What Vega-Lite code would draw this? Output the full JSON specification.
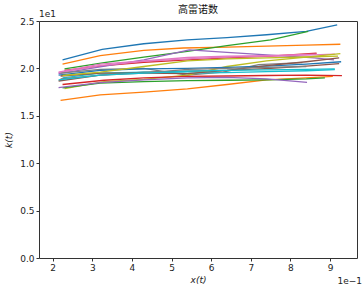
{
  "$schema": "https://vega.github.io/schema/vega-lite/v6.json",
  "width": 318,
  "height": 237,
  "autosize": {"type": "none"},
  "padding": {"left": 39, "top": 21, "right": 6, "bottom": 34},
  "background": "white",
  "title": {"text": "高雷诺数", "font": "Noto Sans CJK SC", "fontSize": 10, "fontWeight": "normal", "color": "#111", "offset": -5},
  "layer": [
    {
      "data": {"values": [
        {"s":0,"x":0.225,"k":20.9},{"s":0,"x":0.325,"k":22.0},{"s":0,"x":0.43,"k":22.6},{"s":0,"x":0.54,"k":23.0},{"s":0,"x":0.64,"k":23.25},{"s":0,"x":0.74,"k":23.55},{"s":0,"x":0.84,"k":23.9},{"s":0,"x":0.918,"k":24.6},
        {"s":1,"x":0.225,"k":20.45},{"s":1,"x":0.32,"k":21.35},{"s":1,"x":0.43,"k":21.9},{"s":1,"x":0.53,"k":22.15},{"s":1,"x":0.64,"k":22.25},{"s":1,"x":0.74,"k":22.35},{"s":1,"x":0.84,"k":22.45},{"s":1,"x":0.926,"k":22.55},
        {"s":2,"x":0.23,"k":19.95},{"s":2,"x":0.33,"k":20.6},{"s":2,"x":0.43,"k":21.2},{"s":2,"x":0.54,"k":21.8},{"s":2,"x":0.64,"k":22.4},{"s":2,"x":0.75,"k":23.0},{"s":2,"x":0.845,"k":23.9},
        {"s":3,"x":0.23,"k":19.8},{"s":3,"x":0.33,"k":20.3},{"s":3,"x":0.43,"k":20.65},{"s":3,"x":0.54,"k":20.9},{"s":3,"x":0.64,"k":21.1},{"s":3,"x":0.75,"k":21.3},{"s":3,"x":0.866,"k":21.6},
        {"s":4,"x":0.215,"k":19.45},{"s":4,"x":0.32,"k":20.15},{"s":4,"x":0.43,"k":20.9},{"s":4,"x":0.545,"k":21.95},{"s":4,"x":0.64,"k":21.7},{"s":4,"x":0.75,"k":21.4},{"s":4,"x":0.86,"k":21.1},{"s":4,"x":0.91,"k":20.9},
        {"s":5,"x":0.215,"k":18.67},{"s":5,"x":0.32,"k":19.3},{"s":5,"x":0.43,"k":19.6},{"s":5,"x":0.54,"k":19.7},{"s":5,"x":0.64,"k":19.8},{"s":5,"x":0.75,"k":20.0},{"s":5,"x":0.84,"k":20.25},{"s":5,"x":0.923,"k":20.5},
        {"s":6,"x":0.215,"k":19.55},{"s":6,"x":0.32,"k":20.3},{"s":6,"x":0.43,"k":20.75},{"s":6,"x":0.54,"k":21.0},{"s":6,"x":0.64,"k":21.2},{"s":6,"x":0.74,"k":21.3},{"s":6,"x":0.84,"k":21.4},{"s":6,"x":0.912,"k":21.5},
        {"s":7,"x":0.22,"k":19.5},{"s":7,"x":0.32,"k":19.9},{"s":7,"x":0.43,"k":20.0},{"s":7,"x":0.54,"k":19.3},{"s":7,"x":0.63,"k":19.6},{"s":7,"x":0.72,"k":20.4},{"s":7,"x":0.83,"k":20.6},
        {"s":8,"x":0.23,"k":17.86},{"s":8,"x":0.33,"k":18.6},{"s":8,"x":0.43,"k":18.85},{"s":8,"x":0.54,"k":19.3},{"s":8,"x":0.64,"k":20.2},{"s":8,"x":0.74,"k":20.8},{"s":8,"x":0.84,"k":21.2},{"s":8,"x":0.926,"k":21.56},
        {"s":9,"x":0.225,"k":19.0},{"s":9,"x":0.32,"k":19.5},{"s":9,"x":0.43,"k":19.6},{"s":9,"x":0.54,"k":19.5},{"s":9,"x":0.64,"k":19.55},{"s":9,"x":0.74,"k":19.65},{"s":9,"x":0.84,"k":19.75},{"s":9,"x":0.912,"k":19.87},
        {"s":10,"x":0.215,"k":19.3},{"s":10,"x":0.32,"k":19.8},{"s":10,"x":0.43,"k":19.95},{"s":10,"x":0.54,"k":20.0},{"s":10,"x":0.64,"k":20.1},{"s":10,"x":0.74,"k":20.25},{"s":10,"x":0.84,"k":20.45},{"s":10,"x":0.928,"k":20.7},
        {"s":11,"x":0.22,"k":16.63},{"s":11,"x":0.32,"k":17.2},{"s":11,"x":0.43,"k":17.5},{"s":11,"x":0.54,"k":17.85},{"s":11,"x":0.64,"k":18.3},{"s":11,"x":0.74,"k":18.8},{"s":11,"x":0.84,"k":19.0},{"s":11,"x":0.907,"k":19.15},
        {"s":12,"x":0.225,"k":17.95},{"s":12,"x":0.32,"k":18.45},{"s":12,"x":0.43,"k":18.6},{"s":12,"x":0.54,"k":18.7},{"s":12,"x":0.64,"k":18.75},{"s":12,"x":0.74,"k":18.8},{"s":12,"x":0.84,"k":18.9},{"s":12,"x":0.887,"k":19.0},
        {"s":13,"x":0.225,"k":18.3},{"s":13,"x":0.33,"k":18.75},{"s":13,"x":0.43,"k":19.0},{"s":13,"x":0.54,"k":19.15},{"s":13,"x":0.64,"k":19.2},{"s":13,"x":0.74,"k":19.25},{"s":13,"x":0.84,"k":19.3},{"s":13,"x":0.93,"k":19.24},
        {"s":14,"x":0.215,"k":17.97},{"s":14,"x":0.32,"k":18.5},{"s":14,"x":0.43,"k":18.8},{"s":14,"x":0.54,"k":19.0},{"s":14,"x":0.64,"k":19.05},{"s":14,"x":0.74,"k":18.9},{"s":14,"x":0.842,"k":18.53},
        {"s":15,"x":0.22,"k":19.2},{"s":15,"x":0.32,"k":19.5},{"s":15,"x":0.43,"k":19.5},{"s":15,"x":0.54,"k":19.45},{"s":15,"x":0.64,"k":19.8},{"s":15,"x":0.74,"k":20.3},{"s":15,"x":0.84,"k":20.7},{"s":15,"x":0.923,"k":21.1},
        {"s":16,"x":0.215,"k":19.6},{"s":16,"x":0.32,"k":20.45},{"s":16,"x":0.43,"k":20.8},{"s":16,"x":0.54,"k":21.15},{"s":16,"x":0.64,"k":21.3},{"s":16,"x":0.74,"k":21.35},{"s":16,"x":0.865,"k":21.5},
        {"s":17,"x":0.22,"k":18.9},{"s":17,"x":0.32,"k":19.3},{"s":17,"x":0.43,"k":19.5},{"s":17,"x":0.54,"k":19.9},{"s":17,"x":0.64,"k":20.0},{"s":17,"x":0.74,"k":20.1},{"s":17,"x":0.84,"k":20.2},
        {"s":18,"x":0.225,"k":19.25},{"s":18,"x":0.32,"k":19.6},{"s":18,"x":0.43,"k":20.2},{"s":18,"x":0.54,"k":20.8},{"s":18,"x":0.64,"k":21.0},{"s":18,"x":0.74,"k":21.1},{"s":18,"x":0.84,"k":21.2},{"s":18,"x":0.92,"k":21.3},
        {"s":19,"x":0.215,"k":18.8},{"s":19,"x":0.32,"k":19.3},{"s":19,"x":0.43,"k":19.5},{"s":19,"x":0.54,"k":19.7},{"s":19,"x":0.64,"k":19.8},{"s":19,"x":0.74,"k":19.85},{"s":19,"x":0.84,"k":19.9},{"s":19,"x":0.912,"k":19.95}
      ]},
      "mark": {"type": "line", "strokeWidth": 1.3},
      "encoding": {
        "x": {"field": "x", "type": "quantitative",
              "scale": {"domain": [0.1656, 0.968], "nice": false, "zero": false},
              "axis": {"title": "x(t)", "values": [0.2,0.3,0.4,0.5,0.6,0.7,0.8,0.9],
                       "labelExpr": "format(datum.value*10, '.0f')", "titlePadding": 3}},
        "y": {"field": "k", "type": "quantitative",
              "scale": {"domain": [0, 25], "nice": false},
              "axis": {"title": "k(t)", "values": [0,5,10,15,20,25],
                       "labelExpr": "format(datum.value/10, '.1f')", "titlePadding": 6}},
        "color": {"field": "s", "type": "nominal", "legend": null,
                  "scale": {"domain": [0,1,2,3,4,5,6,7,8,9,10,11,12,13,14,15,16,17,18,19],
                            "range": ["#1f77b4","#ff7f0e","#2ca02c","#d62728","#9467bd","#8c564b","#e377c2","#7f7f7f","#bcbd22","#17becf","#1f77b4","#ff7f0e","#2ca02c","#d62728","#9467bd","#8c564b","#e377c2","#7f7f7f","#bcbd22","#17becf"]}},
        "order": {"field": "x", "type": "quantitative"}
      }
    },
    {
      "data": {"values": [{"t": "1e1"}]},
      "mark": {"type": "text", "align": "left", "baseline": "bottom", "dy": -2, "font": "DejaVu Sans", "fontSize": 9, "fontWeight": "normal", "color": "#222"},
      "encoding": {"x": {"datum": 0.1656}, "y": {"datum": 25}, "text": {"field": "t"}}
    },
    {
      "data": {"values": [{"t": "1e\u22121"}]},
      "mark": {"type": "text", "align": "right", "baseline": "top", "dy": 19, "dx": 5, "font": "DejaVu Sans", "fontSize": 9, "fontWeight": "normal", "color": "#222"},
      "encoding": {"x": {"datum": 0.968}, "y": {"datum": 0}, "text": {"field": "t"}}
    }
  ],
  "config": {
    "view": {"stroke": "#333", "strokeWidth": 1},
    "axis": {"domain": false, "grid": false, "tickColor": "#333", "tickSize": 3, "labelPadding": 2,
             "labelFont": "DejaVu Sans", "labelFontSize": 9, "labelColor": "#222",
             "titleFont": "DejaVu Sans", "titleFontSize": 9, "titleFontWeight": "normal", "titleFontStyle": "italic", "titleColor": "#222"}
  }
}
